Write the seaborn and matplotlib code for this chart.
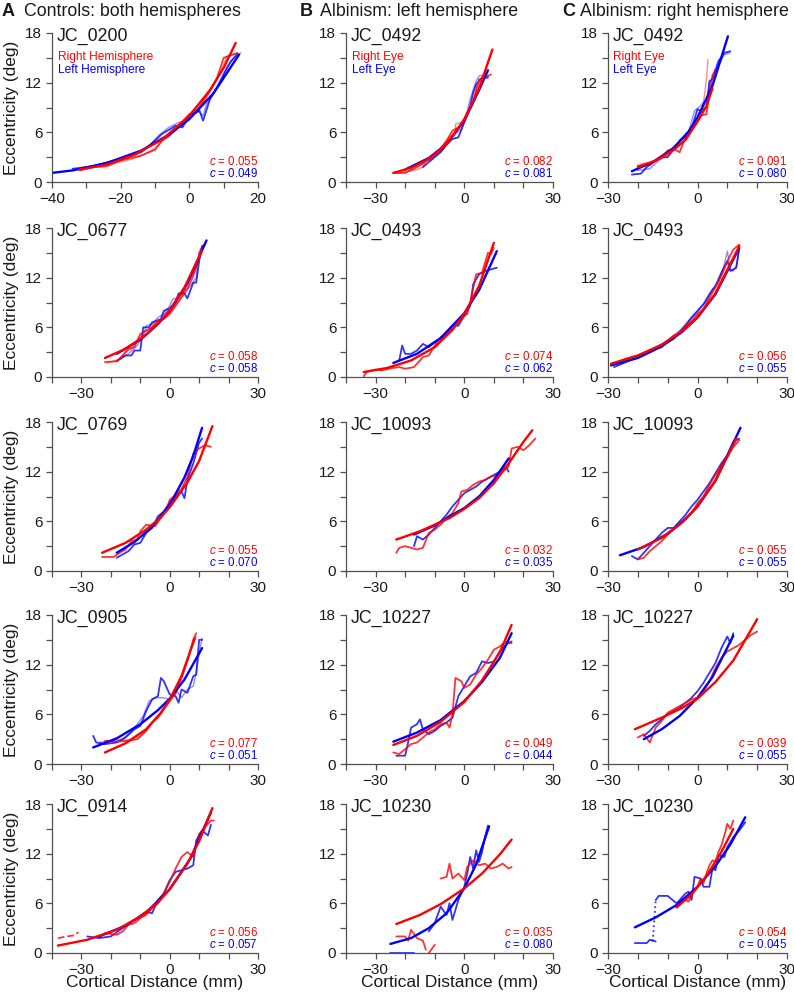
import matplotlib
matplotlib.use("Agg")
import matplotlib.pyplot as plt
import pandas as pd
import seaborn as sns

sns.set_theme(style="ticks")
plt.rcParams["font.family"] = ["Liberation Sans", "DejaVu Sans"]
plt.rcParams["mathtext.fontset"] = "custom"
plt.rcParams["mathtext.it"] = "Liberation Sans:italic"
plt.rcParams["mathtext.rm"] = "Liberation Sans"

RED = "#ff0000"
BLUE = "#0000ff"

# ---------------- text data ----------------
col_titles = ["Controls: both hemispheres", "Albinism: left hemisphere", "Albinism: right hemisphere"]
col_letters = ["A", "B", "C"]
names_A = ["JC_0200", "JC_0677", "JC_0769", "JC_0905", "JC_0914"]
names_B = ["JC_0492", "JC_0493", "JC_10093", "JC_10227", "JC_10230"]
names_C = ["JC_0492", "JC_0493", "JC_10093", "JC_10227", "JC_10230"]
c_red_A = [0.055, 0.058, 0.055, 0.077, 0.056]
c_blue_A = [0.049, 0.058, 0.070, 0.051, 0.057]
c_red_B = [0.082, 0.074, 0.032, 0.049, 0.035]
c_blue_B = [0.081, 0.062, 0.035, 0.044, 0.080]
c_red_C = [0.091, 0.056, 0.055, 0.039, 0.054]
c_blue_C = [0.080, 0.055, 0.055, 0.055, 0.045]
legend_A = ["Right Hemisphere", "Left Hemisphere"]
legend_BC = ["Right Eye", "Left Eye"]

# ---------------- column A ----------------
A1_red = [(-32,1.4),(-28,1.8),(-24,1.9),(-20,2.6),(-18,2.8),(-14,3.2),(-10,3.9),(-8,5.0),(-6,5.5),(-2,7.2),(0,8.2),(2,8.4),(4,9.8),(6,11.0),(8,12.5),(10,15.0),(12,15.3),(14,15.6)]
A1_red2 = [(-31,1.8),(-27,2.0),(-23,2.3),(-19,2.5),(-15,3.0),(-12,3.6),(-9,4.4),(-7,5.4),(-4,6.2),(-1,7.8),(1,8.6),(3,8.8),(5,10.2),(7,11.6),(9,13.2),(11,15.2),(13,15.4)]
A1_blue = [(-34,1.6),(-28,1.9),(-22,2.6),(-18,3.0),(-14,3.6),(-10,5.0),(-8,5.8),(-4,6.8),(-2,6.6),(0,8.0),(3,8.6),(4,7.4),(6,10.0),(8,11.4),(10,13.0),(12,14.5),(14,15.5)]
A1_blue2 = [(-30,1.7),(-26,2.0),(-20,2.8),(-16,3.3),(-12,4.2),(-9,5.6),(-6,6.6),(-3,7.2),(0,7.6),(2,8.8),(4,8.0),(5,9.4),(7,10.6),(9,12.0),(11,14.0),(13,15.0),(15,15.6)]
A1_blue_piece = [(-45,2.1),(-43.5,1.8),(-42,1.75)]
A1_red_fit = [(-32,1.5),(-24,2.1),(-16,3.3),(-8,5.1),(0,8.0),(6,11.1),(10,13.8),(13.5,16.8)]
A1_blue_fit = [(-44,0.9),(-34,1.4),(-24,2.3),(-14,3.8),(-6,5.7),(0,7.6),(7,10.7),(14.5,15.4)]

A2_red = [(-22,1.8),(-18,1.9),(-16,2.6),(-14,3.4),(-12,3.6),(-10,5.2),(-8,5.6),(-6,6.0),(-4,6.8),(-2,7.0),(0,7.6),(2,8.6),(4,9.6),(6,10.6),(8,12.2),(10,14.5),(11,15.8)]
A2_red2 = [(-21,1.7),(-17,2.2),(-15,3.0),(-13,3.4),(-11,4.4),(-9,5.4),(-7,5.8),(-5,6.6),(-3,7.0),(-1,7.4),(1,8.2),(3,9.2),(5,10.4),(7,11.8),(9,13.0),(10,15.0)]
A2_blue = [(-18,1.9),(-15,2.6),(-13,2.6),(-12,3.2),(-10,3.2),(-9,6.0),(-7,6.0),(-6,6.6),(-3,7.0),(-2,8.0),(0,8.3),(2,9.0),(3,10.1),(5,10.1),(6,9.5),(8,11.4),(9,11.4),(10,14.0),(11,15.8),(12,16.0)]
A2_blue2 = [(-17,2.2),(-14,2.8),(-11,3.8),(-9,5.0),(-8,6.2),(-6,6.4),(-4,7.2),(-2,7.6),(0,8.6),(1,9.4),(3,9.6),(5,10.4),(7,11.0),(9,12.0),(10,15.2),(12,16.2)]
A2_red_fit = [(-22,2.3),(-15,3.4),(-8,5.1),(-3,6.8),(0,8.1),(5,10.8),(11,15.3)]
A2_blue_fit = [(-18,2.8),(-10,4.5),(-4,6.4),(0,8.0),(6,11.3),(12.5,16.5)]

A3_red = [(-23,1.7),(-19,1.7),(-17,2.2),(-15,2.6),(-13,3.6),(-11,3.8),(-10,4.8),(-8,5.6),(-5,5.4),(-3,6.4),(-1,7.5),(0,8.6),(2,9.2),(4,9.9),(6,11.4),(8,14.2),(10,14.8),(12,15.2),(14,15.0)]
A3_blue = [(-18,1.6),(-16,2.0),(-14,2.4),(-12,3.2),(-10,3.4),(-8,4.6),(-6,5.2),(-4,6.6),(-2,7.2),(0,8.3),(2,9.0),(4,9.6),(5,8.8),(6,11.0),(8,13.0),(10,15.5),(11,16.0)]
A3_red_fit = [(-23,2.2),(-15,3.4),(-8,5.0),(-3,6.5),(0,7.7),(6,10.7),(10,13.3),(14.5,17.5)]
A3_blue_fit = [(-18,2.2),(-12,3.5),(-6,5.3),(0,8.0),(5,11.3),(8,13.9),(11,17.3)]

A4_red = [(-22,2.8),(-18,2.7),(-14,2.8),(-11,3.0),(-8,4.0),(-6,5.0),(-4,5.6),(-2,6.6),(0,7.6),(2,8.5),(4,10.4),(6,12.4),(8,15.0),(9,15.8)]
A4_red2 = [(-21,2.6),(-17,2.8),(-13,3.0),(-10,3.4),(-7,4.4),(-5,5.4),(-3,6.2),(-1,7.2),(1,8.2),(3,9.8),(5,11.6),(7,13.6),(9,15.4)]
A4_blue = [(-26,3.4),(-25,2.6),(-22,2.4),(-18,2.6),(-15,3.2),(-12,4.2),(-10,4.6),(-8,6.4),(-6,7.8),(-4,8.2),(-3,10.4),(-2,10.0),(0,8.4),(2,8.2),(3,7.4),(4,9.0),(6,8.6),(8,10.6),(9,10.8),(10,15.0),(11,15.0)]
A4_blue2 = [(-24,2.6),(-20,2.8),(-16,3.0),(-13,4.0),(-11,4.8),(-9,5.8),(-7,7.6),(-5,8.0),(-2,8.0),(0,7.8),(2,9.0),(4,8.0),(6,9.0),(8,9.4),(9,11.0),(10,13.4),(11,15.2)]
A4_red_fit = [(-22,1.4),(-15,2.5),(-8,4.2),(-3,6.2),(0,7.8),(4,10.6),(8.5,15.2)]
A4_blue_fit = [(-26,2.0),(-18,3.1),(-10,4.8),(-4,6.5),(0,7.9),(5,10.2),(11,14.0)]

A5_red = [(-22,2.4),(-18,2.2),(-16,2.6),(-14,3.4),(-12,3.6),(-10,4.2),(-8,4.6),(-6,5.4),(-4,6.0),(-2,7.2),(0,8.6),(2,10.2),(4,11.6),(6,12.2),(8,11.6),(10,14.4),(12,15.2),(14,16.0),(15,16.0)]
A5_red_piece = [(-38,1.8),(-35,2.0),(-33,2.1),(-31,2.5)]
A5_blue = [(-28,2.0),(-24,1.8),(-20,2.0),(-16,3.0),(-14,3.6),(-12,4.0),(-8,5.0),(-6,4.8),(-4,6.4),(-2,7.2),(0,8.8),(2,9.8),(4,10.0),(6,10.2),(8,10.6),(9,13.6),(11,14.8),(13,14.2),(14,15.5)]
A5_red_fit = [(-38,0.9),(-28,1.6),(-18,2.8),(-10,4.4),(-4,6.1),(0,7.7),(6,10.8),(10,13.5),(14.5,17.5)]
A5_blue_fit = [(-24,2.0),(-15,3.3),(-8,4.9),(0,7.7),(7,11.4),(14,17.0)]

# ---------------- column B ----------------
B1_red = [(-24,1.1),(-20,1.1),(-17,1.6),(-14,2.2),(-12,2.8),(-9,3.6),(-6,5.0),(-4,6.2),(-2,6.6),(0,7.6),(2,9.0),(3,9.8),(5,12.4),(7,12.6),(9,13.0)]
B1_red2 = [(-23,1.0),(-19,1.3),(-16,1.5),(-14,1.8),(-13,2.4),(-10,3.2),(-8,3.8),(-5,5.4),(-3,6.0),(-3,7.0),(-1,7.2),(1,8.4),(3,9.4),(4,11.0),(6,12.8),(8,13.2)]
B1_blue = [(-14,1.8),(-12,2.4),(-10,3.0),(-8,3.6),(-6,4.5),(-4,5.2),(-2,5.4),(0,7.2),(2,9.2),(3,10.8),(4,11.8),(6,12.6),(8,12.6)]
B1_blue2 = [(-12,2.6),(-9,3.4),(-7,4.0),(-5,5.0),(-3,5.8),(-1,6.4),(1,8.6),(2,10.0),(4,12.2),(5,12.8),(7,13.0),(8,12.8)]
B1_red_fit = [(-24,1.1),(-18,1.7),(-12,2.8),(-6,4.6),(0,7.5),(5,11.3),(9.5,16.0)]
B1_blue_fit = [(-20,1.5),(-12,2.9),(-6,4.6),(0,7.4),(5,11.1),(8,13.5)]

B2_red = [(-34,0.1),(-33,0.6),(-30,0.9),(-28,0.8),(-24,1.1),(-22,1.2),(-20,1.0),(-17,1.2),(-16,1.6),(-14,2.4),(-12,2.6),(-10,3.8),(-8,4.8),(-6,5.2),(-4,6.0),(-2,6.6),(0,7.4),(1,7.6),(2,9.0),(4,12.4),(6,12.6),(8,15.0),(9,14.8),(10,15.6)]
B2_blue = [(-22,2.0),(-21,3.8),(-20,2.8),(-18,2.8),(-16,3.2),(-14,4.0),(-12,3.6),(-10,4.2),(-8,4.6),(-6,5.4),(-4,6.2),(-2,6.2),(0,7.4),(2,8.6),(3,11.2),(5,12.4),(7,12.8),(9,13.0),(11,13.2)]
B2_red_fit = [(-34,0.6),(-26,1.1),(-18,2.0),(-10,3.6),(-4,5.7),(0,7.6),(5,11.0),(10,16.2)]
B2_blue_fit = [(-24,1.7),(-16,2.8),(-8,4.7),(0,7.7),(5,10.5),(11,15.2)]

B3_red = [(-23,2.2),(-22,2.8),(-20,3.0),(-18,2.8),(-16,2.6),(-14,2.8),(-12,4.6),(-10,5.0),(-8,5.6),(-6,6.4),(-4,7.0),(-2,8.2),(-1,9.6),(1,9.8),(3,10.4),(5,10.8),(7,11.0),(9,11.4),(11,11.6),(13,12.0),(15,12.6),(16,14.8),(18,15.0),(20,14.6),(22,15.2),(24,16.0)]
B3_blue = [(-17,3.0),(-16,4.2),(-14,3.8),(-12,4.4),(-10,5.2),(-8,6.0),(-6,6.8),(-4,7.8),(-2,8.6),(0,9.4),(2,9.8),(4,10.2),(6,10.8),(8,11.2),(10,11.6),(12,12.0),(14,12.6),(15,12.0)]
B3_red_fit = [(-23,3.8),(-15,4.8),(-10,5.6),(-5,6.4),(0,7.5),(5,8.8),(10,10.6),(15,13.0),(20,15.6),(23,17.0)]
B3_blue_fit = [(-17,4.4),(-10,5.5),(-5,6.6),(0,7.6),(5,9.0),(10,11.0),(15,13.6)]

B4_red = [(-24,1.4),(-22,1.2),(-20,1.8),(-18,2.4),(-16,2.6),(-14,3.2),(-12,3.8),(-10,4.2),(-8,4.8),(-6,5.0),(-5,4.4),(-4,6.0),(-3,10.4),(-1,10.0),(0,9.2),(2,9.6),(4,10.8),(6,11.6),(8,12.6),(10,13.8),(12,14.2),(14,14.8),(16,14.6)]
B4_blue = [(-23,1.0),(-20,1.0),(-19,2.6),(-18,4.4),(-16,4.8),(-15,5.4),(-14,4.2),(-12,3.6),(-10,4.0),(-8,4.6),(-6,5.0),(-4,5.6),(-2,8.2),(0,9.4),(2,10.6),(4,11.0),(6,12.4),(8,12.2),(10,12.4),(12,13.6),(14,14.4),(16,14.8)]
B4_red_fit = [(-24,2.3),(-16,3.4),(-8,5.1),(0,7.5),(6,10.1),(12,13.5),(16,16.8)]
B4_blue_fit = [(-24,2.7),(-16,3.8),(-8,5.3),(0,7.6),(6,9.9),(12,12.8),(16,15.8)]

B5_red = [(-8,9.0),(-6,9.2),(-5,10.8),(-4,9.0),(-2,9.6),(0,8.8),(1,10.4),(3,11.2),(5,10.6),(7,10.8),(9,10.2),(11,10.4),(13,10.8),(15,10.2),(16,10.4)]
B5_red_piece = [(-23,2.0),(-20,2.0),(-19,1.5),(-18,2.8),(-16,1.8),(-14,1.5),(-13,0.4)]
B5_red_piece2 = [(-12,0.0),(-10,1.0)]
B5_blue = [(-12,2.6),(-10,3.6),(-8,5.6),(-6,4.6),(-5,6.0),(-4,4.0),(-2,6.4),(0,8.0),(1,9.6),(2,11.6),(3,10.2),(4,12.4),(5,11.0),(6,12.2),(7,14.0),(8,15.4)]
B5_blue_piece = [(-25,0.05),(-17,0.05)]
B5_red_fit = [(-23,3.5),(-15,4.6),(-8,5.9),(0,7.8),(6,9.6),(12,11.9),(16,13.7)]
B5_blue_fit = [(-25,1.1),(-18,1.8),(-12,3.0),(-6,4.8),(0,7.8),(4,10.7),(8.4,15.3)]

# ---------------- column C ----------------
C1_red = [(-20,2.0),(-16,2.0),(-14,2.6),(-12,3.0),(-10,3.8),(-8,4.0),(-6,3.6),(-4,5.4),(-2,6.4),(0,7.4),(1,8.0),(3,8.2),(4,10.8),(5,12.6),(6,13.6)]
C1_red2 = [(-19,2.2),(-15,2.4),(-12,2.8),(-9,3.4),(-7,4.2),(-5,4.8),(-3,5.8),(-1,7.0),(1,7.8),(2,9.6),(3,12.4),(3.5,14.8)]
C1_blue = [(-22,0.9),(-19,1.0),(-17,1.8),(-15,2.4),(-12,3.0),(-10,3.0),(-8,4.0),(-6,5.0),(-4,5.6),(-2,6.4),(-1,7.6),(0,8.8),(1,8.6),(3,9.0),(4,12.2),(5,12.4),(7,14.6),(9,15.6),(11,15.8)]
C1_blue2 = [(-20,1.4),(-16,1.6),(-13,2.6),(-10,3.6),(-7,4.6),(-5,5.2),(-3,6.0),(-1,8.6),(1,9.2),(3,10.0),(5,13.0),(7,14.0),(9,15.4),(11,15.6)]
C1_red_fit = [(-20,1.8),(-14,2.6),(-8,3.9),(-4,5.1),(0,7.3),(3,9.2),(5,11.3)]
C1_blue_fit = [(-22,1.3),(-15,2.4),(-8,4.1),(-3,6.1),(0,7.8),(5,11.6),(10.2,17.6)]

C2_red = [(-28,1.6),(-24,2.2),(-20,2.6),(-16,3.2),(-12,3.6),(-10,4.4),(-8,5.0),(-6,5.2),(-4,6.2),(-2,6.8),(0,7.6),(2,8.2),(4,9.6),(6,10.8),(8,12.2),(10,14.0),(12,15.4),(14,16.0)]
C2_blue = [(-28,1.2),(-24,1.8),(-20,2.4),(-16,3.0),(-12,3.8),(-8,4.6),(-4,6.2),(-2,7.2),(0,8.0),(2,8.8),(4,10.0),(6,11.0),(8,12.6),(10,14.0),(11,12.8),(13,13.2),(14,15.6)]
C2_blue2 = [(-26,1.8),(-22,2.2),(-18,2.8),(-14,3.6),(-10,4.4),(-6,5.6),(-3,6.8),(0,7.8),(3,9.2),(5,10.6),(7,11.4),(9,13.6),(10,15.2),(11,13.0),(12,12.8),(13,13.4),(14,15.4)]
C2_red_fit = [(-29,1.6),(-20,2.6),(-12,3.9),(-5,5.6),(0,7.2),(6,10.1),(14,15.8)]
C2_blue_fit = [(-29,1.4),(-20,2.3),(-12,3.7),(-5,5.5),(0,7.2),(6,10.0),(14,15.6)]

C3_red = [(-20,1.4),(-18,1.6),(-16,2.4),(-14,3.0),(-12,3.6),(-10,4.4),(-8,5.0),(-6,5.6),(-4,6.4),(-2,7.0),(0,8.2),(2,9.0),(4,10.4),(6,11.6),(8,12.8),(10,13.8),(12,15.0),(14,15.8)]
C3_blue = [(-22,1.8),(-20,1.4),(-18,2.2),(-16,3.0),(-14,3.8),(-12,4.6),(-10,5.2),(-8,5.2),(-6,6.0),(-4,6.8),(-2,7.8),(0,8.6),(2,9.6),(4,10.6),(6,11.8),(8,13.0),(10,14.0),(12,15.6),(14,16.0)]
C3_red_fit = [(-20,2.6),(-12,4.0),(-5,5.9),(0,7.8),(6,10.9),(13,16.0)]
C3_blue_fit = [(-26,1.9),(-18,2.9),(-10,4.5),(-4,6.3),(0,7.8),(6,10.9),(14.4,17.3)]

C4_red = [(-20,3.2),(-18,3.6),(-16,2.6),(-14,4.4),(-12,5.2),(-10,6.2),(-8,6.6),(-6,7.0),(-4,7.4),(-2,7.8),(0,8.0),(2,8.8),(4,10.0),(6,11.6),(8,12.8),(10,13.6),(12,14.0),(14,14.4),(16,15.0),(18,15.6),(20,16.0)]
C4_blue = [(-18,3.4),(-16,4.0),(-14,4.8),(-12,5.4),(-10,6.0),(-8,6.4),(-6,6.8),(-4,7.4),(-2,8.0),(0,8.8),(2,9.8),(4,11.0),(6,12.2),(8,14.0),(10,15.4),(11,14.6),(12,15.8)]
C4_red_fit = [(-21,4.2),(-12,5.6),(-5,6.8),(0,7.9),(6,9.9),(12,12.5),(20,17.5)]
C4_blue_fit = [(-18,3.0),(-12,4.2),(-6,5.8),(0,8.0),(5,10.5),(12,15.5)]

C5_red = [(-7,5.8),(-5,6.6),(-3,6.2),(-2,7.0),(0,8.0),(1,9.0),(2,8.4),(3,9.6),(4,10.6),(5,11.2),(6,11.0),(7,12.2),(8,13.0),(9,14.2),(10,15.6),(11,15.0),(12,16.0)]
C5_blue = [(-14,6.4),(-13,6.9),(-10,6.9),(-9,6.6),(-7,6.0),(-4,7.2),(-3,7.4),(-2,6.4),(-1,9.2),(1,9.0),(2,8.0),(4,8.0),(5,10.2),(6,10.0),(7,11.8),(9,11.6),(10,12.8),(12,14.0),(14,14.8),(16,15.8)]
C5_blue_piece = [(-21,1.2),(-17,1.2),(-16,1.6),(-14,1.4)]
C5_blue_dot = [(-15,1.4),(-14.5,4.0),(-14,6.4)]
C5_red_fit = [(-7,5.5),(-2,7.1),(3,9.3),(8,12.2),(12,15.0)]
C5_blue_fit = [(-21,3.1),(-14,4.3),(-7,5.8),(0,8.0),(6,10.5),(11,13.1),(16,16.4)]

# ---------------- panel assembly ----------------
# line-style codes: "-" main trace, "f" faint trace, "--" dashed, ":" dotted
panels = [
    (0, 0, names_A[0], c_red_A[0], c_blue_A[0], [(A1_red, "-"), (A1_red2, "f")], [(A1_blue, "-"), (A1_blue2, "f"), (A1_blue_piece, "--")], A1_red_fit, A1_blue_fit),
    (0, 1, names_A[1], c_red_A[1], c_blue_A[1], [(A2_red, "-"), (A2_red2, "f")], [(A2_blue, "-"), (A2_blue2, "f")], A2_red_fit, A2_blue_fit),
    (0, 2, names_A[2], c_red_A[2], c_blue_A[2], [(A3_red, "-")], [(A3_blue, "-")], A3_red_fit, A3_blue_fit),
    (0, 3, names_A[3], c_red_A[3], c_blue_A[3], [(A4_red, "-"), (A4_red2, "f")], [(A4_blue, "-"), (A4_blue2, "f")], A4_red_fit, A4_blue_fit),
    (0, 4, names_A[4], c_red_A[4], c_blue_A[4], [(A5_red, "-"), (A5_red_piece, "--")], [(A5_blue, "-")], A5_red_fit, A5_blue_fit),
    (1, 0, names_B[0], c_red_B[0], c_blue_B[0], [(B1_red, "-"), (B1_red2, "f")], [(B1_blue, "-"), (B1_blue2, "f")], B1_red_fit, B1_blue_fit),
    (1, 1, names_B[1], c_red_B[1], c_blue_B[1], [(B2_red, "-")], [(B2_blue, "-")], B2_red_fit, B2_blue_fit),
    (1, 2, names_B[2], c_red_B[2], c_blue_B[2], [(B3_red, "-")], [(B3_blue, "-")], B3_red_fit, B3_blue_fit),
    (1, 3, names_B[3], c_red_B[3], c_blue_B[3], [(B4_red, "-")], [(B4_blue, "-")], B4_red_fit, B4_blue_fit),
    (1, 4, names_B[4], c_red_B[4], c_blue_B[4], [(B5_red, "-"), (B5_red_piece, "-"), (B5_red_piece2, "-")], [(B5_blue, "-"), (B5_blue_piece, "-")], B5_red_fit, B5_blue_fit),
    (2, 0, names_C[0], c_red_C[0], c_blue_C[0], [(C1_red, "-"), (C1_red2, "f")], [(C1_blue, "-"), (C1_blue2, "f")], C1_red_fit, C1_blue_fit),
    (2, 1, names_C[1], c_red_C[1], c_blue_C[1], [(C2_red, "-")], [(C2_blue, "-"), (C2_blue2, "f")], C2_red_fit, C2_blue_fit),
    (2, 2, names_C[2], c_red_C[2], c_blue_C[2], [(C3_red, "-")], [(C3_blue, "-")], C3_red_fit, C3_blue_fit),
    (2, 3, names_C[3], c_red_C[3], c_blue_C[3], [(C4_red, "-")], [(C4_blue, "-")], C4_red_fit, C4_blue_fit),
    (2, 4, names_C[4], c_red_C[4], c_blue_C[4], [(C5_red, "-")], [(C5_blue, "-"), (C5_blue_piece, "-"), (C5_blue_dot, ":")], C5_red_fit, C5_blue_fit),
]

# ---------------- layout (pixels) ----------------
W, H = 794, 993
col_left = [52, 346, 608]
col_width = [206, 207, 179]
col_xlim = [(-40, 30), (-40, 30), (-30, 30)]
row_top = [33, 228, 422, 615, 804]
ax_h = 149

fig = plt.figure(figsize=(W / 100, H / 100), dpi=100)
SPINE = "#505050"
TXT = "#1a1a1a"


def draw(ax, pts, color, code, fit=False):
    df = pd.DataFrame(pts, columns=["x", "y"])
    if fit:
        ls, lw, alpha = "-", 1.7, 1.0
    elif code == "f":
        ls, lw, alpha = "-", 1.0, 0.45
    else:
        ls, lw, alpha = code, 1.3, 0.8
    sns.lineplot(data=df, x="x", y="y", sort=False, estimator=None, color=color,
                 linestyle=ls, lw=lw, alpha=alpha, ax=ax, legend=False)


for (col, row, name, cr, cb, reds, blues, rfit, bfit) in panels:
    left = col_left[col] / W
    bottom = 1 - (row_top[row] + ax_h) / H
    ax = fig.add_axes([left, bottom, col_width[col] / W, ax_h / H])
    for pts, code in blues:
        draw(ax, pts, BLUE, code)
    for pts, code in reds:
        draw(ax, pts, RED, code)
    draw(ax, bfit, BLUE, "-", fit=True)
    draw(ax, rfit, RED, "-", fit=True)

    if col == 0 and row == 0:
        xlim = (-40, 20)
        xticks = list(range(-40, 21, 10))
        xlab = [-40, -20, 0, 20]
    else:
        xlim = col_xlim[col]
        xticks = list(range(xlim[0], xlim[1] + 1, 10))
        xlab = [-30, 0, 30]
    ax.set_xlim(*xlim)
    ax.set_ylim(0, 18)
    ax.set_xticks(xticks)
    ax.set_xticklabels([("\u2212%d" % -t if t < 0 else "%d" % t) if t in xlab else "" for t in xticks])
    yt = list(range(0, 19, 3))
    ax.set_yticks(yt)
    ax.set_yticklabels([str(t) if t % 6 == 0 else "" for t in yt])
    ax.tick_params(direction="out", length=4.5, width=0.9, color=SPINE, labelsize=11,
                   labelcolor=TXT, pad=2.5)
    for s in ["top", "right"]:
        ax.spines[s].set_visible(False)
    for s in ["left", "bottom"]:
        ax.spines[s].set_color(SPINE)
        ax.spines[s].set_linewidth(0.9)
    ax.set_xlabel("")
    ax.set_ylabel("")
    ax.patch.set_alpha(0)

    ax.text(0.025, 1.035, name, transform=ax.transAxes, ha="left", va="top",
            fontsize=12.8, color=TXT)
    if row == 0:
        labs = legend_A if col == 0 else legend_BC
        ax.text(0.028, 0.84, labs[0], transform=ax.transAxes, ha="left", va="center",
                fontsize=8.6, color=RED)
        ax.text(0.028, 0.755, labs[1], transform=ax.transAxes, ha="left", va="center",
                fontsize=8.6, color=BLUE)
    ax.text(1.0, 0.14, "$c$ = %.3f" % cr, transform=ax.transAxes, ha="right", va="center",
            fontsize=8.3, color=RED)
    ax.text(1.0, 0.06, "$c$ = %.3f" % cb, transform=ax.transAxes, ha="right", va="center",
            fontsize=8.3, color=BLUE)

    if col == 0:
        yc = 1 - (row_top[row] + ax_h / 2) / H
        fig.text(12 / W, yc, "Eccentricity (deg)", rotation=90, ha="center", va="center",
                 fontsize=12.5, color=TXT)
    if row == 4:
        xc = (col_left[col] + col_width[col] / 2) / W
        fig.text(xc, 1 - 983 / H, "Cortical Distance (mm)", ha="center", va="center",
                 fontsize=12.5, color=TXT)

letter_x = [2, 300, 562]
title_x = [24, 320, 580]
for i in range(3):
    fig.text(letter_x[i] / W, 1 - 12 / H, col_letters[i], ha="left", va="center",
             fontsize=13, fontweight="bold", color=TXT)
    fig.text(title_x[i] / W, 1 - 12 / H, col_titles[i], ha="left", va="center",
             fontsize=12.8, color=TXT)

fig.savefig("out.png", dpi=100)
